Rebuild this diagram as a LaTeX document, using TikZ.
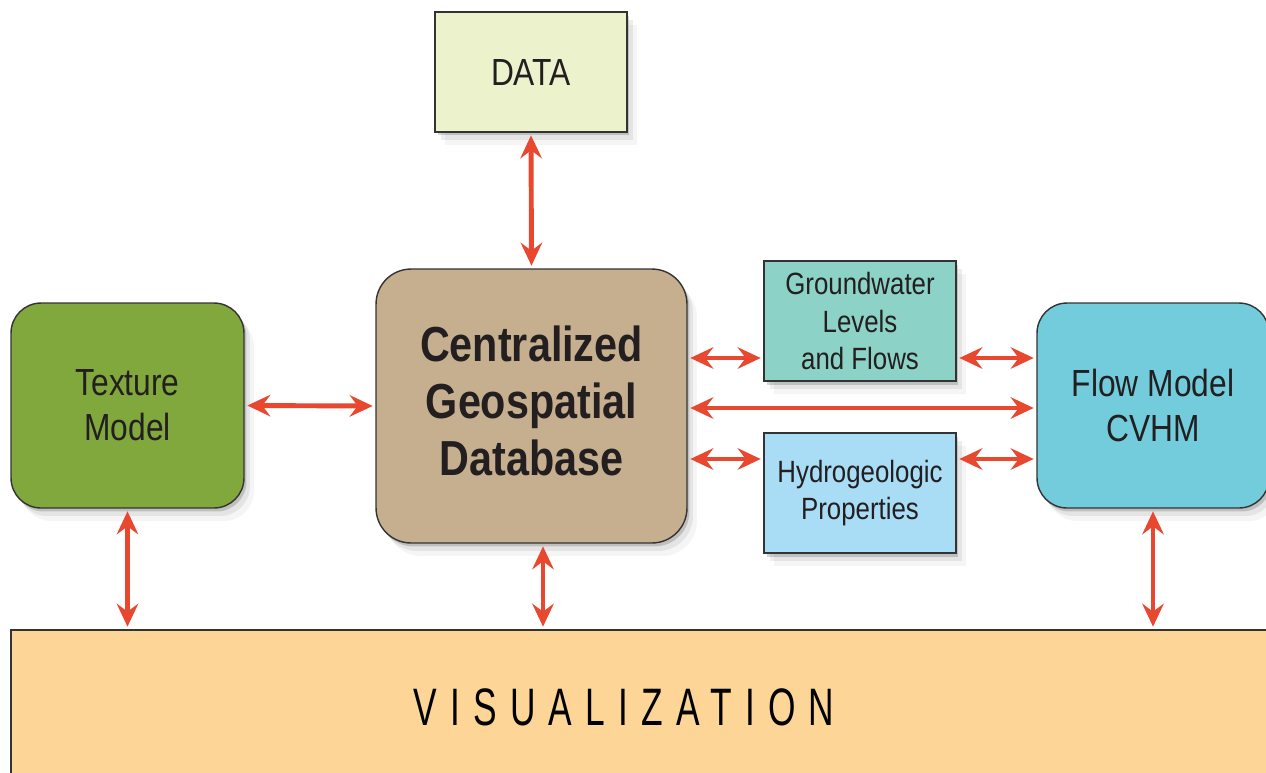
\documentclass[tikz,border=0pt]{standalone}
\usepackage{fontspec}
\setmainfont{Liberation Sans}[FakeStretch=0.84]
\newfontfamily\spacedfont{Liberation Sans}[FakeStretch=0.67,LetterSpace=25]
\usetikzlibrary{arrows.meta}
\usetikzlibrary{shadows}
\usetikzlibrary{calc}

\definecolor{datafill}{HTML}{EBF2CC}
\definecolor{dbfill}{HTML}{C6AF8E}
\definecolor{texfill}{HTML}{80A83D}
\definecolor{flowfill}{HTML}{72CCDC}
\definecolor{gwfill}{HTML}{8DD2C6}
\definecolor{hydfill}{HTML}{A8DDF5}
\definecolor{visfill}{HTML}{FDD597}
\definecolor{arrowred}{HTML}{E94830}
\definecolor{edgegray}{HTML}{333333}
\definecolor{inkblack}{HTML}{231F20}

\begin{document}
\begin{tikzpicture}[%
x=0.02cm, y=-0.02cm,
>={Stealth[length=4.6mm,width=4.3mm,inset=1.6mm]},
softshadow/.style={
  drop shadow={shadow xshift=.05cm, shadow yshift=-.07cm, opacity=.16, fill=black},
  drop shadow={shadow xshift=.12cm, shadow yshift=-.16cm, opacity=.07, fill=black},
  drop shadow={shadow xshift=.2cm, shadow yshift=-.26cm, opacity=.04, fill=black}},
box/.style={draw=edgegray, line width=0.8pt, inner sep=0pt, align=center, text=inkblack, softshadow},
roundbox/.style={box, rounded corners=0.6cm},
flux/.style={<->, line width=2.8pt, draw=arrowred, shorten <=1.5pt, shorten >=1.5pt},
smalltext/.style={font=\fontsize{17.5}{21.5}\selectfont},
mediumtext/.style={font=\fontsize{21.5}{25.5}\selectfont},
dbtext/.style={font=\bfseries\fontsize{28}{32.5}\selectfont, align=center, text=inkblack},
]

\clip (0,0) rectangle (1266,772);

% boxes
\node(vis) [box, fill=visfill, minimum width=25.58cm, minimum height=3.4cm] at (650.5,715) {};
\node(vislabel) at (624,707) {\spacedfont\fontsize{30}{30}\selectfont VISUALIZATION};

\node(data) [box, fill=datafill, mediumtext, minimum width=3.84cm, minimum height=2.4cm] at (531,72) {DATA};
\node(db) [roundbox, rounded corners=0.7cm, fill=dbfill, minimum width=6.22cm, minimum height=5.48cm] at (531.5,406) {};
\node(dblabel) [dbtext] at ([yshift=0.1cm]db.center) {Centralized\\Geospatial\\Database};
\node(tex) [roundbox, fill=texfill, mediumtext, minimum width=4.66cm, minimum height=4.1cm] at (127.5,405.5) {Texture\\Model};
\node(flow) [roundbox, fill=flowfill, mediumtext, minimum width=4.64cm, minimum height=4.1cm] at (1153,405.5) {Flow Model\\CVHM};
\node(gw) [box, fill=gwfill, smalltext, minimum width=3.84cm, minimum height=2.4cm] at (860,321) {Groundwater\\Levels\\and Flows};
\node(hyd) [box, fill=hydfill, smalltext, minimum width=3.84cm, minimum height=2.4cm] at (860,493) {Hydrogeologic\\Properties};

% arrow rows and columns
\coordinate (row1) at (0,358);
\coordinate (row2) at (0,408);
\coordinate (row3) at (0,459);
\coordinate (col2) at (543,0);

\draw[flux] (data.south) -- (db.north);
\draw[flux] (tex.east) -- (db.west);
\draw[flux] (db.east |- row1) -- (gw.west |- row1);
\draw[flux] (gw.east |- row1) -- (flow.west |- row1);
\draw[flux] (db.east |- row2) -- (flow.west |- row2);
\draw[flux] (db.east |- row3) -- (hyd.west |- row3);
\draw[flux] (hyd.east |- row3) -- (flow.west |- row3);

\draw[flux] (tex.south) -- (tex.south |- vis.north);
\draw[flux] (col2 |- db.south) -- (col2 |- vis.north);
\draw[flux] (flow.south) -- (flow.south |- vis.north);

\end{tikzpicture}
\end{document}
